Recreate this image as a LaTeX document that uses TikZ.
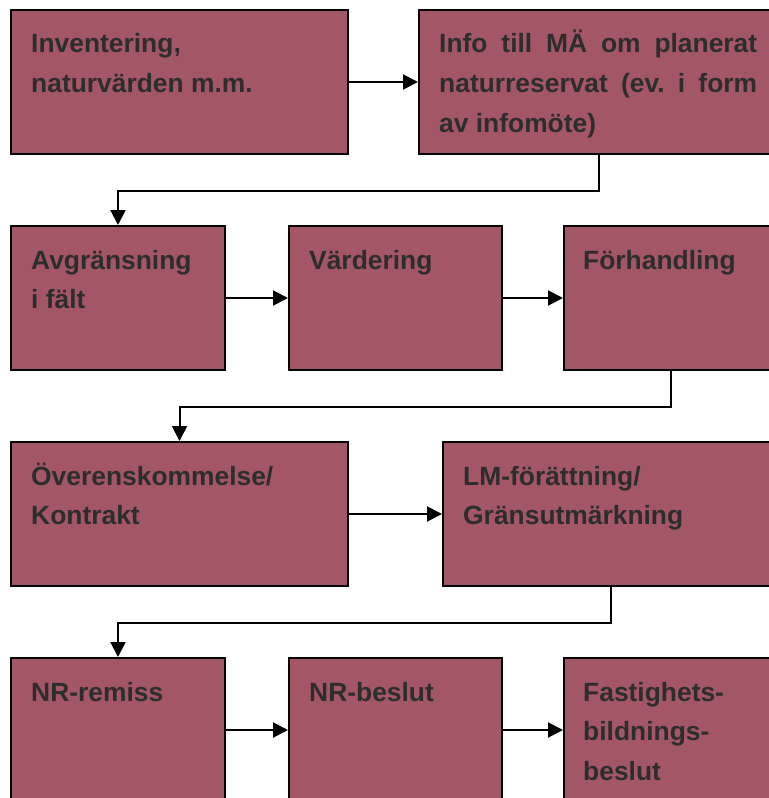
\documentclass[tikz,border=0pt]{standalone}
\usepackage{fontspec}
\setmainfont{Liberation Sans}
\usetikzlibrary{arrows.meta}
\definecolor{boxfill}{RGB}{163,86,102}
\definecolor{boxtext}{RGB}{45,45,45}
\newcommand{\boxlines}[1]{\vtop{\fontsize{26.5}{39.7}\selectfont\bfseries #1}}
\tikzset{
  pbox/.style={draw=black, line width=2bp, fill=boxfill, rectangle, anchor=north west, inner sep=0pt, minimum height=144bp},
  ptext/.style={anchor=base west, inner sep=0pt, text=boxtext},
  arr/.style={line width=2bp, -{Triangle[length=15bp,width=15bp]}}
}
\begin{document}
\begin{tikzpicture}[x=1bp,y=-1bp]
\useasboundingbox (0,0) rectangle (769,798);
\clip (0,0) rectangle (769,798);
% row 1
\node[pbox, minimum width=337bp] (b1) at (10,9) {};
\node[pbox, minimum width=360bp] (b2) at (418,9) {};
% row 2
\node[pbox, minimum width=214bp] (a) at (10,225) {};
\node[pbox, minimum width=213bp] (v) at (288,225) {};
\node[pbox, minimum width=213bp] (f) at (563,225) {};
% row 3
\node[pbox, minimum width=337bp] (o) at (10,441) {};
\node[pbox, minimum width=336bp] (lm) at (442,441) {};
% row 4
\node[pbox, minimum width=214bp] (r) at (10,657) {};
\node[pbox, minimum width=213bp] (nb) at (288,657) {};
\node[pbox, minimum width=213bp] (fb) at (563,657) {};
% texts
\node[ptext] (t1) at (31,53) {\boxlines{\hbox{Inventering,}\hbox{naturvärden m.m.}}};
\node[ptext] (t2) at (439,53) {\boxlines{\hbox to 318bp{Info\hfill till\hfill MÄ\hfill om\hfill planerat}\hbox to 318bp{naturreservat\hfill (ev.\hfill i\hfill form}\hbox{av infomöte)}}};
\node[ptext] (ta) at (31,269) {\boxlines{\hbox{Avgränsning}\hbox{i fält}}};
\node[ptext] (tv) at (309,269) {\boxlines{\hbox{Värdering}}};
\node[ptext] (tf) at (583,269) {\boxlines{\hbox{Förhandling}}};
\node[ptext] (to) at (31,485) {\boxlines{\hbox{Överenskommelse/}\hbox{Kontrakt}}};
\node[ptext] (tlm) at (463,485) {\boxlines{\hbox{LM-förättning/}\hbox{Gränsutmärkning}}};
\node[ptext] (tr) at (31,701) {\boxlines{\hbox{NR-remiss}}};
\node[ptext] (tnb) at (309,701) {\boxlines{\hbox{NR-beslut}}};
\node[ptext] (tfb) at (583,701) {\boxlines{\hbox{Fastighets-}\hbox{bildnings-}\hbox{beslut}}};
% connectors
\draw[arr] (b1.east) -- (b2.west);
\draw[arr] (b2.south) -- ++(0,36) -| (a.north);
\draw[arr] (a.east) -- (v.west);
\draw[arr] (v.east) -- (f.west);
\draw[arr] (f.south) -- ++(0,36) -| (o.north);
\draw[arr] (o.east) -- (lm.west);
\draw[arr] (lm.south) -- ++(0,36) -| (r.north);
\draw[arr] (r.east) -- (nb.west);
\draw[arr] (nb.east) -- (fb.west);
\end{tikzpicture}
\end{document}
